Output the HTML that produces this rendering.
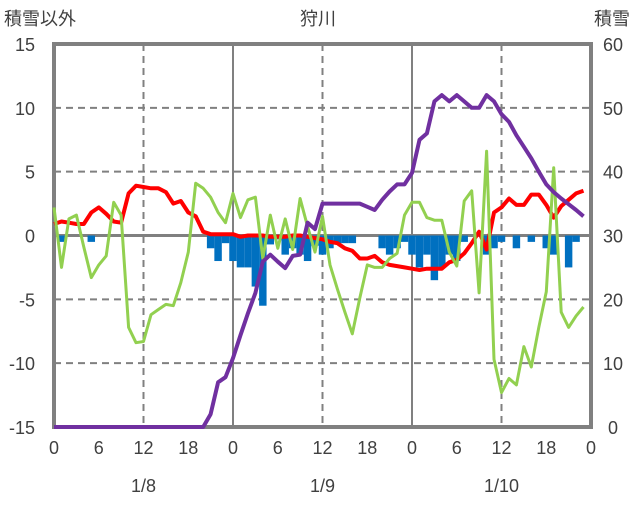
<!DOCTYPE html>
<html><head><meta charset="utf-8"><style>
body{margin:0;background:#fff;width:636px;height:501px;overflow:hidden}
svg text{font-family:"Liberation Sans","Noto Sans CJK JP",sans-serif;fill:#404040}
</style></head><body>
<svg id="chart" width="636" height="501" xmlns="http://www.w3.org/2000/svg">
<g id="grid"></g>
<g id="bars"></g>
<rect x="54" y="44" width="537" height="383" fill="none" stroke="#808080" stroke-width="4"/>
<g id="lines"></g>
<g id="labels"></g>
<text x="4" y="25" font-size="18">積雪以外</text>
<text x="318" y="25" font-size="18" text-anchor="middle">狩川</text>
<text x="630" y="25" font-size="18" text-anchor="end">積雪</text>
</svg>
<script>
const hours=[...Array(72).keys()];
const leftTicks=[15,10,5,0,-5,-10,-15];
const rightTicks=[60,50,40,30,20,10,0];
const xTickLabels=["0","6","12","18","0","6","12","18","0","6","12","18","0"];
const dateLabels=["1/8","1/9","1/10"];
const temp=[0.9,1.1,1.0,0.9,0.9,1.8,2.2,1.7,1.1,1.0,3.3,3.9,3.8,3.7,3.7,3.4,2.5,2.7,1.8,1.5,0.3,0.1,0.1,0.1,0.1,-0.1,0,0,0,-0.1,-0.1,-0.1,0,0,-0.1,-0.2,-0.3,-0.5,-0.6,-1.0,-1.2,-1.8,-1.8,-1.6,-2.1,-2.3,-2.4,-2.5,-2.6,-2.7,-2.6,-2.6,-2.6,-2.1,-1.9,-1.4,-0.6,0.3,-1.1,1.8,2.2,2.9,2.4,2.4,3.2,3.2,2.4,1.4,2.3,2.8,3.3,3.5];
const wind=[2.2,-2.5,1.3,1.6,-0.9,-3.3,-2.3,-1.6,2.6,1.6,-7.2,-8.4,-8.3,-6.2,-5.8,-5.4,-5.5,-3.7,-1.3,4.1,3.7,3.0,1.8,1.0,3.3,1.4,2.8,3.0,-1.8,1.6,-1.0,1.3,-1.1,2.9,0.7,-1.3,1.5,-2.3,-4.2,-6.0,-7.7,-4.9,-2.3,-2.5,-2.5,-1.8,-1.4,1.6,2.6,2.6,1.4,1.2,1.2,-1.3,-2.4,2.7,3.5,-4.5,6.6,-9.7,-12.3,-11.2,-11.7,-8.7,-10.3,-7.2,-4.4,5.3,-6.0,-7.2,-6.3,-5.6];
const snow=[0,0,0,0,0,0,0,0,0,0,0,0,0,0,0,0,0,0,0,0,0,2,7,7.8,10.8,14.4,17.8,21,25.9,27,25.9,24.9,26.8,27,32,31,35,35,35,35,35,35,34.5,34,35.6,36.9,38,38,39.8,45,46,51,52,51,52,51,50,50,52,51,49,47.8,45.7,43.9,42.1,40,38,36.8,35.8,34.9,34,33];
const precip=[0,-0.5,0,0,0,-0.5,0,0,0,0,0,0,0,0,0,0,0,0,0,0,0,-1.0,-2.0,-0.6,-2.0,-2.5,-2.5,-4.0,-5.5,-0.7,-0.3,-1.5,-1.0,-1.5,-2.0,-0.8,-1.5,-1.0,-0.6,-0.6,-0.6,0,0,0,-1.0,-1.5,-1.0,-0.5,-1.5,-2.5,-1.5,-3.5,-2.5,-1.5,-2.0,-0.5,0,0,-1.5,-1.0,-0.5,0,-1.0,0,-0.5,0,-1.0,-1.5,0,-2.5,-0.5,0];
const NS="http://www.w3.org/2000/svg";
const X0=54,X1=591,YT=44,YB=427;
const xs=h=>X0+h*(X1-X0)/72;
const yL=v=>235.5-(v)*(YB-YT)/30;
const yR=v=>YB-v*(YB-YT)/60;
function mk(tag,attrs,parent){const e=document.createElementNS(NS,tag);for(const k in attrs)e.setAttribute(k,attrs[k]);document.getElementById(parent).appendChild(e);return e;}
[10,5,-5,-10].forEach(v=>{const e=mk('line',{x1:X0,x2:X1,y1:yL(v),y2:yL(v),stroke:'#808080','stroke-width':2,'stroke-dasharray':'7,5'},'grid');

});
[12,36,60].forEach(h=>{const e=mk('line',{x1:xs(h),x2:xs(h),y1:YT,y2:YB,stroke:'#808080','stroke-width':2,'stroke-dasharray':'7,5'},'grid');

});
[24,48].forEach(h=>{const e=mk('line',{x1:xs(h),x2:xs(h),y1:YT,y2:YB,stroke:'#808080','stroke-width':2},'grid');

});
const bw=(X1-X0)/72;
precip.forEach((v,i)=>{if(!v)return;const e=mk('rect',{x:xs(hours[i])-bw/2,y:yL(0),width:bw,height:yL(v)-yL(0),fill:'#0070C0'},'bars');

});
const z=mk('line',{x1:X0,x2:X1,y1:yL(0),y2:yL(0),stroke:'#808080','stroke-width':3},'grid');


function line(arr,f,color,w,name){const d=arr.map((v,i)=>(i?'L':'M')+xs(hours[i]).toFixed(1)+','+f(v).toFixed(1)).join('');
const e=mk('path',{d:d,fill:'none',stroke:color,'stroke-width':w,'stroke-linejoin':'round'},'lines');

}
line(temp,yL,'#FF0000',4,'temperature-line');
line(wind,yL,'#92D050',3,'wind-line');
line(snow,yR,'#7030A0',4,'snow-depth-line');
leftTicks.forEach(v=>{const t=mk('text',{x:35,y:yL(v)+7,'font-size':18,'text-anchor':'end'},'labels');t.textContent=v;

});
rightTicks.forEach(v=>{const t=mk('text',{x:613,y:yR(v)+7,'font-size':18,'text-anchor':'middle'},'labels');t.textContent=v;

});
xTickLabels.forEach((s,i)=>{const t=mk('text',{x:xs(i*6),y:454,'font-size':18,'text-anchor':'middle'},'labels');t.textContent=s;

});
dateLabels.forEach((s,i)=>{const t=mk('text',{x:xs(12+24*i),y:492,'font-size':18,'text-anchor':'middle'},'labels');t.textContent=s;

});
</script>
</body></html>
